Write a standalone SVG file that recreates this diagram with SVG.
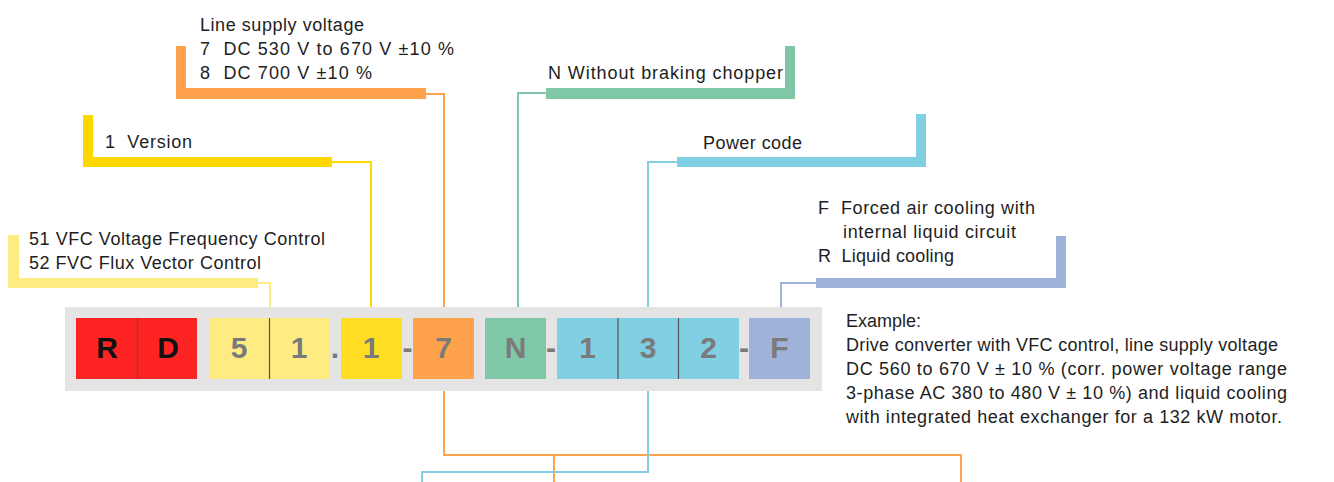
<svg xmlns="http://www.w3.org/2000/svg" width="1334" height="482" viewBox="0 0 1334 482">
<style>
.t{font-family:"Liberation Sans",Arial,sans-serif;font-size:18px;fill:#1e1e1e;white-space:pre}
.c{font-family:"Liberation Sans",Arial,sans-serif;font-size:30px;font-weight:bold;fill:#7a7a7a;text-anchor:middle}
.k{fill:#111}
.ln{fill:none;stroke-width:2}
.dv{stroke:#555;stroke-width:1.2}
</style>
<rect width="1334" height="482" fill="#fff"/>
<g id="connectors">
<path class="ln" stroke="#FEEC82" d="M258,283 H270 V307"/>
<path class="ln" stroke="#FFD800" d="M332,162 H371 V307"/>
<path class="ln" stroke="#FFA24C" d="M426,94 H444 V455 H961 V482 M554,455 V482"/>
<path class="ln" stroke="#80C7A8" d="M546,93 H518 V307"/>
<path class="ln" stroke="#80CFE3" d="M677,162 H648 V472 H422 V482"/>
<path class="ln" stroke="#9FB2D9" d="M816,283 H781 V307"/>
</g>
<g id="label-control">
<path fill="#FEEC82" d="M8,235 H19 V278 H258 V288 H8 Z"/>
<text class="t" x="29" y="245" textLength="296" lengthAdjust="spacing">51 VFC Voltage Frequency Control</text>
<text class="t" x="29" y="269" textLength="232" lengthAdjust="spacing">52 FVC Flux Vector Control</text>
</g>
<g id="label-version">
<path fill="#FFD800" d="M83,115 H93 V157 H332 V167 H83 Z"/>
<text class="t" x="105" y="148" textLength="87" lengthAdjust="spacing">1  Version</text>
</g>
<g id="label-supply">
<path fill="#FFA24C" d="M176,46 H186 V88 H426 V99 H176 Z"/>
<text class="t" x="200" y="31" textLength="164" lengthAdjust="spacing">Line supply voltage</text>
<text class="t" x="200" y="55" textLength="254" lengthAdjust="spacing">7  DC 530 V to 670 V ±10 %</text>
<text class="t" x="200" y="79" textLength="172" lengthAdjust="spacing">8  DC 700 V ±10 %</text>
</g>
<g id="label-chopper">
<path fill="#80C7A8" d="M546,88 H785 V46 H795 V99 H546 Z"/>
<text class="t" x="548" y="79" textLength="235" lengthAdjust="spacing">N Without braking chopper</text>
</g>
<g id="label-power">
<path fill="#80CFE3" d="M677,157 H916 V114 H926 V167 H677 Z"/>
<text class="t" x="703" y="149" textLength="99" lengthAdjust="spacing">Power code</text>
</g>
<g id="label-cooling">
<path fill="#9FB2D9" d="M816,278 H1056 V236 H1066 V288 H816 Z"/>
<text class="t" x="818" y="214" textLength="217" lengthAdjust="spacing">F  Forced air cooling with</text>
<text class="t" x="843" y="238" textLength="173" lengthAdjust="spacing">internal liquid circuit</text>
<text class="t" x="818" y="262" textLength="136" lengthAdjust="spacing">R  Liquid cooling</text>
</g>
<g id="code">
<rect x="65" y="307" width="757" height="84" fill="#E4E4E4"/>
<rect x="76" y="318" width="121" height="61" fill="#FF2424"/>
<line class="dv" x1="137.5" y1="318" x2="137.5" y2="379"/>
<text class="c k" x="107" y="358">R</text>
<text class="c k" x="168" y="358">D</text>
<rect x="209" y="318" width="120" height="61" fill="#FEEC82"/>
<line class="dv" x1="269.5" y1="318" x2="269.5" y2="379"/>
<text class="c" x="239" y="358">5</text>
<text class="c" x="299" y="358">1</text>
<text class="c" x="335" y="358">.</text>
<rect x="341" y="318" width="61" height="61" fill="#FFDD22"/>
<text class="c" x="371" y="358">1</text>
<text class="c" x="407.5" y="358">-</text>
<rect x="413" y="318" width="61" height="61" fill="#FFA24C"/>
<text class="c" x="443.5" y="358">7</text>
<rect x="485" y="318" width="61" height="61" fill="#80C7A8"/>
<text class="c" x="515.5" y="358">N</text>
<text class="c" x="551" y="358">-</text>
<rect x="557" y="318" width="182" height="61" fill="#80CFE3"/>
<line class="dv" x1="618" y1="318" x2="618" y2="379"/>
<line class="dv" x1="678.5" y1="318" x2="678.5" y2="379"/>
<text class="c" x="587.5" y="358">1</text>
<text class="c" x="648" y="358">3</text>
<text class="c" x="708.5" y="358">2</text>
<text class="c" x="744" y="358">-</text>
<rect x="749" y="318" width="61" height="61" fill="#9FB2D9"/>
<text class="c" x="779.5" y="358">F</text>
</g>
<g id="example">
<text class="t" x="846" y="327">Example:</text>
<text class="t" x="846" y="351" textLength="432" lengthAdjust="spacing">Drive converter with VFC control, line supply voltage</text>
<text class="t" x="846" y="375" textLength="441" lengthAdjust="spacing">DC 560 to 670 V ± 10 % (corr. power voltage range</text>
<text class="t" x="846" y="399" textLength="441" lengthAdjust="spacing">3-phase AC 380 to 480 V ± 10 %) and liquid cooling</text>
<text class="t" x="846" y="423" textLength="436" lengthAdjust="spacing">with integrated heat exchanger for a 132 kW motor.</text>
</g>
</svg>
